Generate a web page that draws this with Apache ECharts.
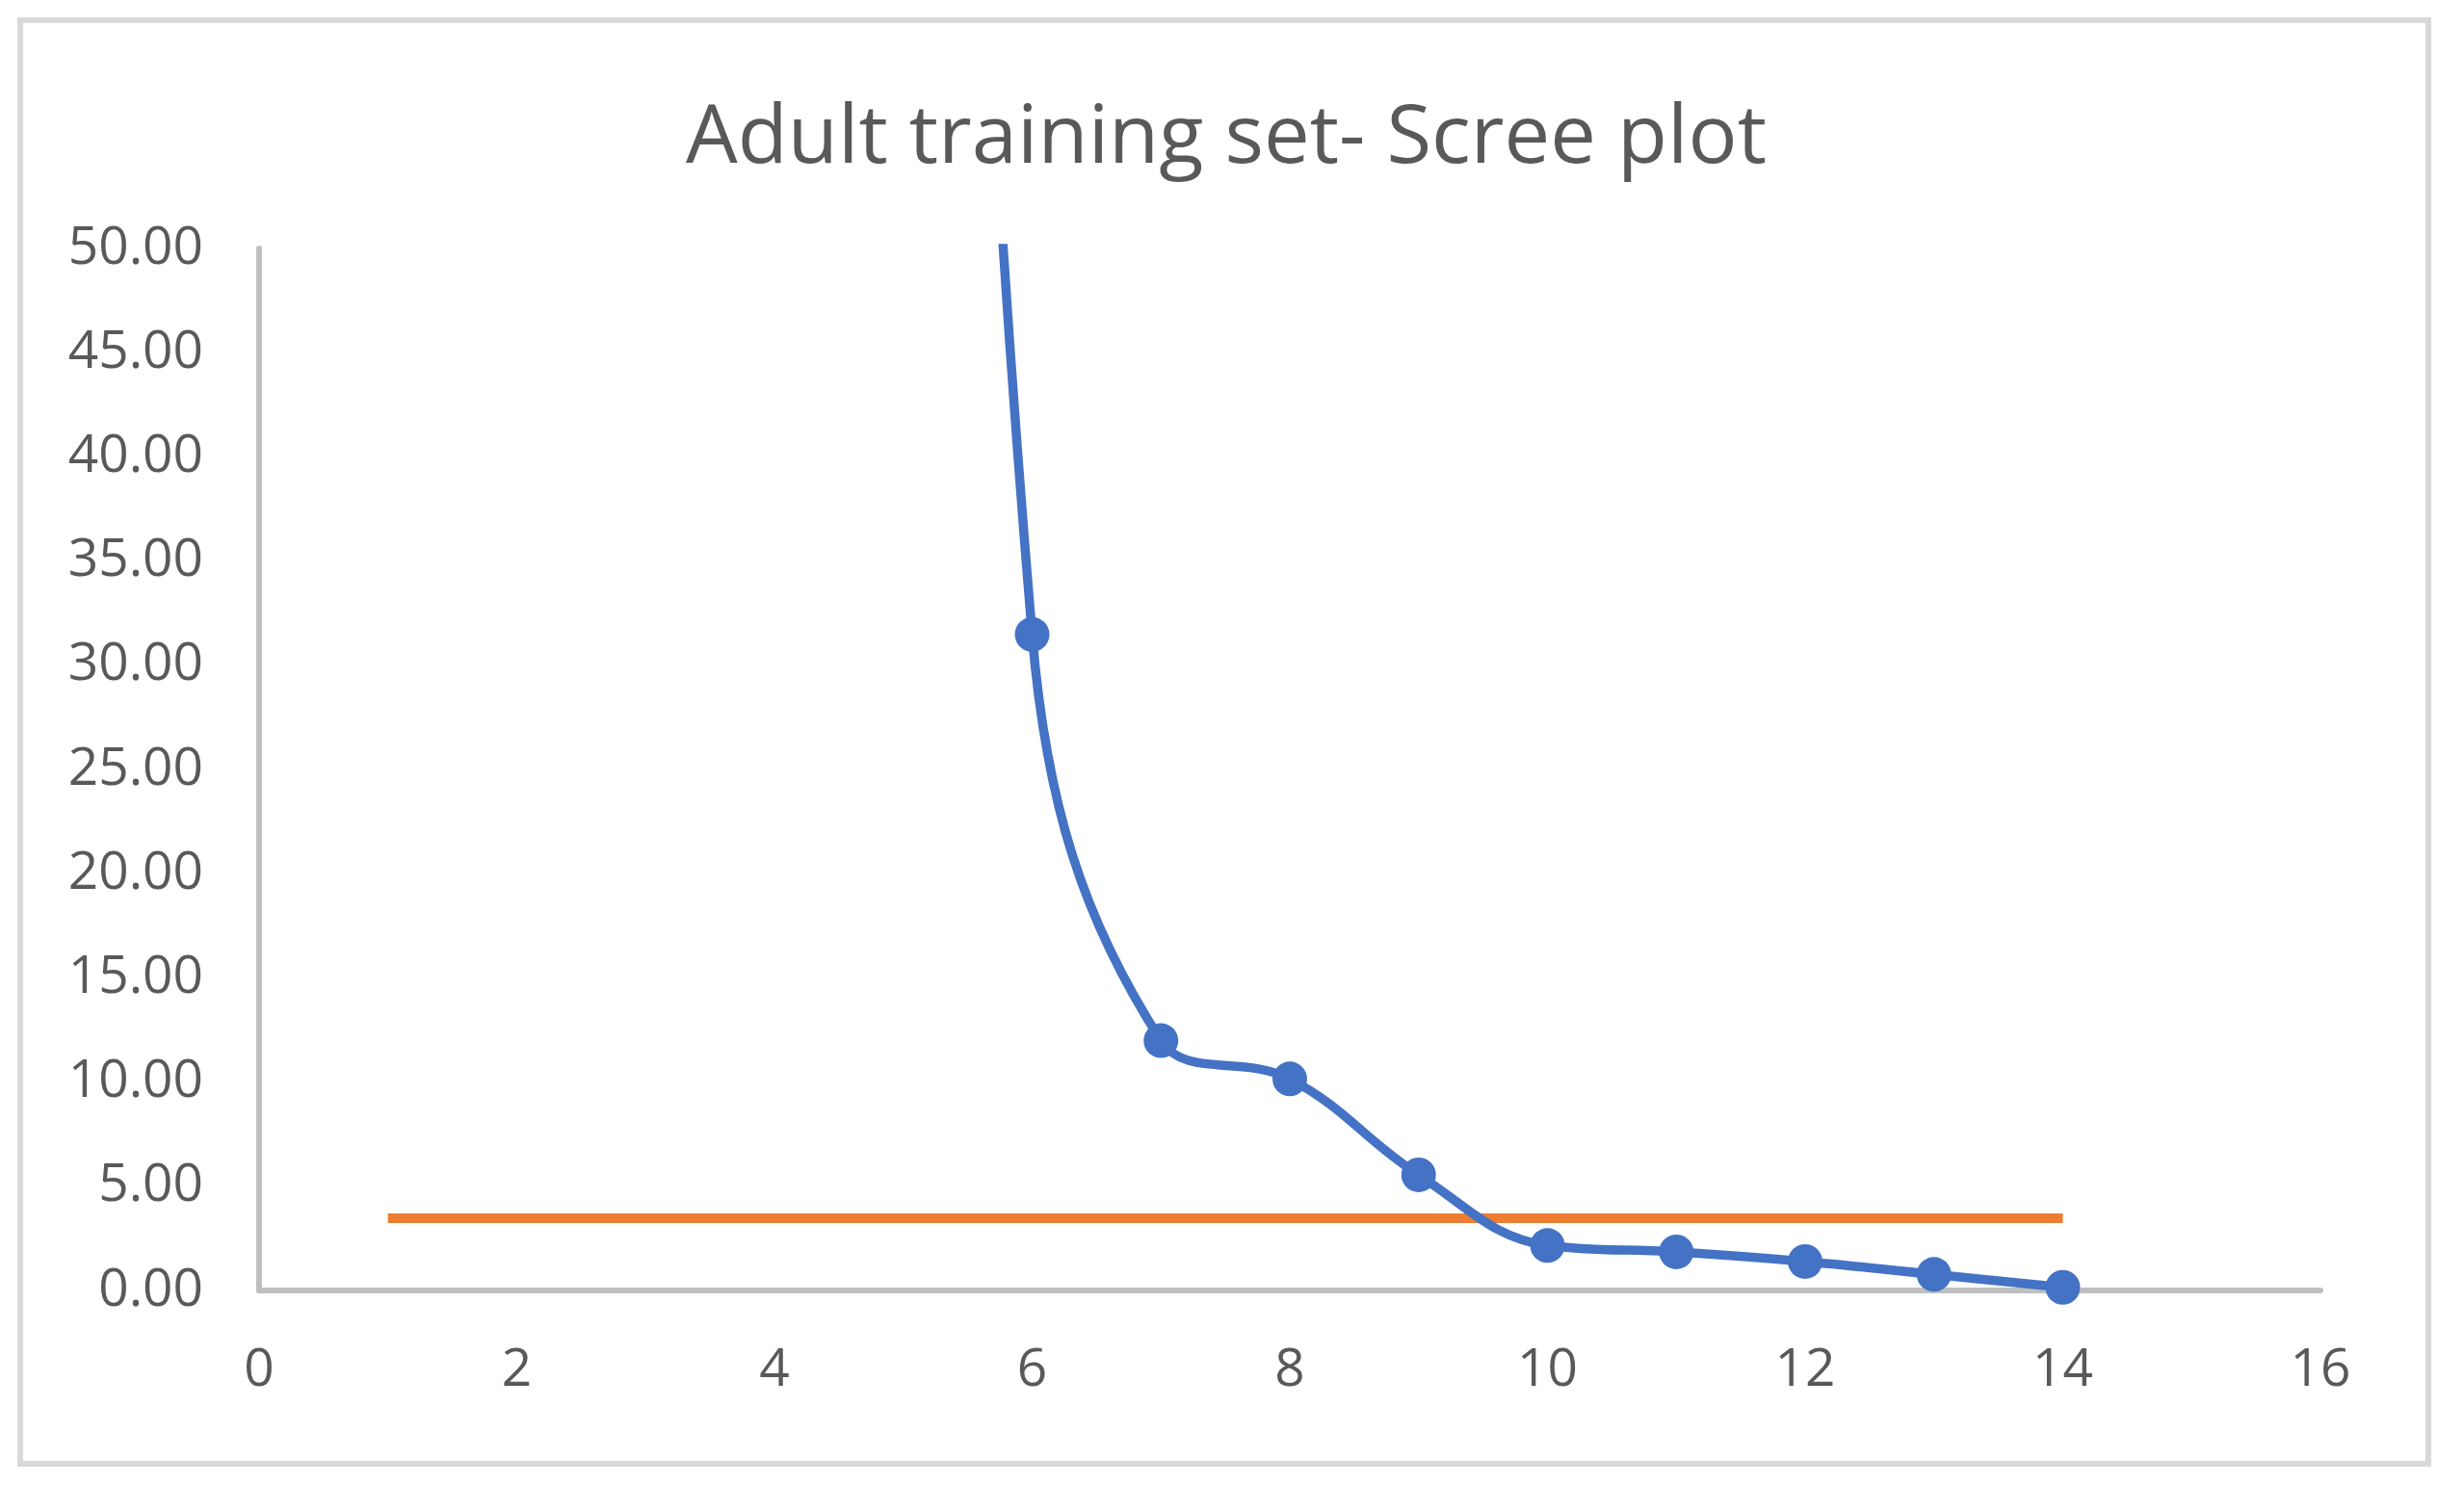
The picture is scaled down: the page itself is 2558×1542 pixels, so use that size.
<!DOCTYPE html>
<html>
<head>
<meta charset="utf-8">
<script src="https://cdn.jsdelivr.net/npm/echarts@6/dist/echarts.min.js"></script>
<style>
html,body{margin:0;padding:0;background:#fff;}
#chart{width:2558px;height:1542px;}
</style>
</head>
<body>
<div id="chart"></div>
<script>
const titleText = 'Adult training set- Scree plot';
const components = [1, 2, 3, 4, 5, 6, 7, 8, 9, 10, 11, 12, 13, 14];
const eigenValues = [560, 420, 320, 230, 160, 31.48, 11.99, 10.15, 5.55, 2.16, 1.85, 1.39, 0.77, 0.15];
const cutoffX = [1, 14];
const cutoffValue = [3.47, 3.47];
const yTicks = { min: 0, max: 50, interval: 5 };
const xTicks = { min: 0, max: 16, interval: 2 };

const chart = echarts.init(document.getElementById('chart'));
const labelFont = '"Open Sans", sans-serif';
chart.setOption({
  backgroundColor: '#fff',
  animation: false,
  graphic: [{
    type: 'rect',
    shape: { x: 21, y: 21, width: 2500, height: 1499 },
    style: { fill: 'none', stroke: '#D9D9D9', lineWidth: 6 },
    silent: true
  }],
  title: {
    text: titleText,
    left: 1268,
    textAlign: 'center',
    top: 97,
    textStyle: { fontFamily: labelFont, fontSize: 85, fontWeight: 'normal', color: '#595959' }
  },
  grid: { left: 269, top: 258, right: 149, bottom: 202, containLabel: false },
  xAxis: {
    type: 'value',
    min: xTicks.min, max: xTicks.max, interval: xTicks.interval,
    axisLine: { show: true, onZero: false, lineStyle: { color: '#BFBFBF', width: 6 } },
    axisTick: { show: false },
    splitLine: { show: false },
    axisLabel: { fontFamily: labelFont, fontSize: 55, color: '#595959', margin: 56 }
  },
  yAxis: {
    type: 'value',
    min: yTicks.min, max: yTicks.max, interval: yTicks.interval,
    axisLine: { show: true, lineStyle: { color: '#BFBFBF', width: 6 } },
    axisTick: { show: false },
    splitLine: { show: false },
    axisLabel: { fontFamily: labelFont, fontSize: 55, color: '#595959', margin: 58,
      formatter: v => v.toFixed(2) }
  },
  series: [
    {
      type: 'line',
      data: components.map((x, i) => [x, eigenValues[i]]),
      smooth: 0.4,
      clip: true,
      symbol: 'circle',
      symbolSize: 36,
      showAllSymbol: true,
      lineStyle: { color: '#4472C4', width: 9.5 },
      itemStyle: { color: '#4472C4' },
      z: 3
    },
    {
      type: 'line',
      data: cutoffX.map((x, i) => [x, cutoffValue[i]]),
      symbol: 'none',
      lineStyle: { color: '#ED7D31', width: 10 },
      z: 2
    }
  ]
});
</script>
</body>
</html>
